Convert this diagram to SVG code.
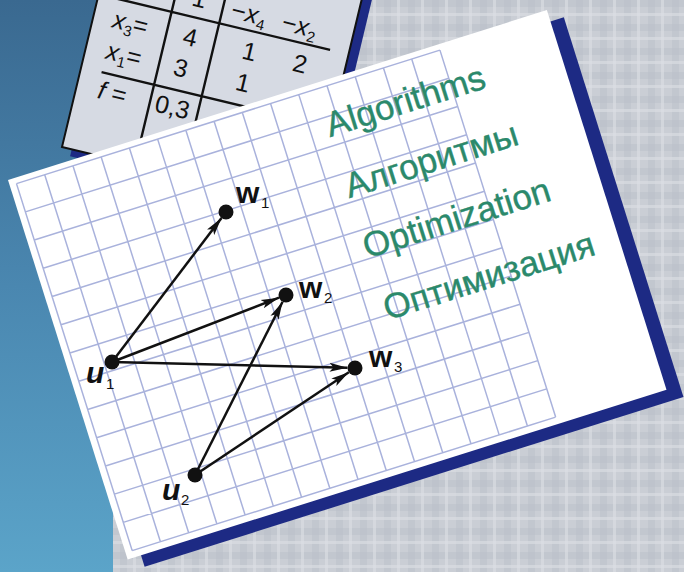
<svg xmlns="http://www.w3.org/2000/svg" width="684" height="572" viewBox="0 0 684 572">
  <defs>
    <linearGradient id="blueBg" x1="0" y1="0" x2="0" y2="1">
      <stop offset="0" stop-color="#3a6990"/>
      <stop offset="0.5" stop-color="#4a87b0"/>
      <stop offset="1" stop-color="#5ba4c9"/>
    </linearGradient>
    <pattern id="plaid" width="24" height="24" patternUnits="userSpaceOnUse">
      <rect width="24" height="24" fill="#caced5"/>
      <rect x="0" y="0" width="7" height="24" fill="#b9bec7" opacity="0.45"/>
      <rect x="0" y="0" width="24" height="7" fill="#b9bec7" opacity="0.45"/>
      <rect x="13" y="0" width="3" height="24" fill="#dcdfe5" opacity="0.6"/>
      <rect x="0" y="13" width="24" height="3" fill="#dcdfe5" opacity="0.6"/>
    </pattern>
    <marker id="arrow" viewBox="0 0 18 10" refX="18" refY="5" markerWidth="18" markerHeight="10" markerUnits="userSpaceOnUse" orient="auto">
      <path d="M0,0.5 L18,5 L0,9.5 L4,5 Z" fill="#111"/>
    </marker>
    <style>
      .navy { fill: #1d2a84; }
      .tbl { font-family: "Liberation Sans", Arial, sans-serif; font-size: 25px; fill: #111; }
      .tline { stroke: #111; stroke-width: 2.4; fill: none; }
      .grid { stroke: #a9b2dc; stroke-width: 1.5; fill: none; }
      .green { font-family: "Liberation Sans", Arial, sans-serif; font-size: 35px; fill: #2b896b; stroke: #2b896b; stroke-width: 0.4; }
      .edge { stroke: #111; stroke-width: 2.5; fill: none; marker-end: url(#arrow); }
      .dot { fill: #111; }
      .lbl { font-family: "Liberation Sans", Arial, sans-serif; font-size: 30px; font-weight: bold; fill: #111; }
      .sub { font-family: "Liberation Sans", Arial, sans-serif; font-size: 15px; fill: #111; }
    </style>
  </defs>

  <!-- background -->
  <rect x="0" y="0" width="684" height="572" fill="url(#plaid)"/>
  <rect x="0" y="0" width="113" height="572" fill="url(#blueBg)"/>

  <!-- simplex table card -->
  <g id="table-card" transform="translate(62,147) rotate(13.5)">
    <rect class="navy" x="10" y="-223" width="257" height="230"/>
    <rect x="0" y="-230" width="257" height="230" fill="#d6dae3" stroke="#111" stroke-width="2"/>
    <path class="tline" d="M75,-230 V0 M124,-230 V0 M8,-157 H238 M21,-82 H235"/>
    <text class="tbl" x="99" y="-168" text-anchor="middle">1</text>
    <text class="tbl" x="133" y="-165">−<tspan font-style="italic">x</tspan><tspan font-size="15" dy="5">4</tspan></text>
    <text class="tbl" x="185" y="-165">−<tspan font-style="italic">x</tspan><tspan font-size="15" dy="5">2</tspan></text>
    <text class="tbl" x="20" y="-128"><tspan font-style="italic">x</tspan><tspan font-size="15" dy="5">3</tspan><tspan dy="-5">=</tspan></text>
    <text class="tbl" x="99" y="-128" text-anchor="middle">4</text>
    <text class="tbl" x="160" y="-128" text-anchor="middle">1</text>
    <text class="tbl" x="212" y="-128" text-anchor="middle">2</text>
    <text class="tbl" x="21" y="-96"><tspan font-style="italic">x</tspan><tspan font-size="15" dy="5">1</tspan><tspan dy="-5">=</tspan></text>
    <text class="tbl" x="97" y="-96" text-anchor="middle">3</text>
    <text class="tbl" x="161" y="-96" text-anchor="middle">1</text>
    <text class="tbl" x="22" y="-56"><tspan font-style="italic">f</tspan>  =</text>
    <text class="tbl" x="98" y="-56" text-anchor="middle">0,3</text>
  </g>

  <!-- grid sheet -->
  <g id="grid-sheet" transform="translate(8,180) rotate(-17.5)">
    <rect class="navy" x="14" y="12" width="565" height="398"/>
    <rect x="0" y="0" width="565" height="398" fill="#ffffff"/>
    <path class="grid" d="M7,6V390.8M36.6,6V390.8M66.2,6V390.8M95.8,6V390.8M125.4,6V390.8M155,6V390.8M184.6,6V390.8M214.2,6V390.8M243.8,6V390.8M273.4,6V390.8M303,6V390.8M332.6,6V390.8M362.2,6V390.8M391.8,6V390.8M421.4,6V390.8M451,6V390.8
      M7,6H451M7,35.6H451M7,65.2H451M7,94.8H451M7,124.4H451M7,154H451M7,183.6H451M7,213.2H451M7,242.8H451M7,272.4H451M7,302H451M7,331.6H451M7,361.2H451M7,390.8H451"/>
    <text class="green" x="320" y="56">Algorithms</text>
    <text class="green" x="320" y="120">Алгоритмы</text>
    <text class="green" x="319" y="183">Optimization</text>
    <text class="green" x="320" y="248">Оптимизация</text>
  </g>

  <!-- connectors -->
  <g id="connectors">
    <line class="edge" x1="112" y1="362" x2="221.5" y2="218"/>
    <line class="edge" x1="112" y1="362" x2="279" y2="297.7"/>
    <line class="edge" x1="112" y1="362" x2="347.5" y2="367.8"/>
    <line class="edge" x1="195" y1="475" x2="282.6" y2="301.7"/>
    <line class="edge" x1="195" y1="475" x2="348.8" y2="372.2"/>
  </g>

  <!-- nodes -->
  <g id="node-w1">
    <circle class="dot" cx="226" cy="212" r="7.5"/>
    <text class="lbl" x="236" y="203">w</text><text class="sub" x="261" y="208">1</text>
  </g>
  <g id="node-w2">
    <circle class="dot" cx="286" cy="295" r="7.5"/>
    <text class="lbl" x="299" y="298">w</text><text class="sub" x="324" y="303">2</text>
  </g>
  <g id="node-w3">
    <circle class="dot" cx="355" cy="368" r="7.5"/>
    <text class="lbl" x="369" y="367">w</text><text class="sub" x="394" y="372">3</text>
  </g>
  <g id="node-u1">
    <circle class="dot" cx="112" cy="362" r="7.5"/>
    <text class="lbl" x="86" y="383" font-style="italic">u</text><text class="sub" x="106" y="389">1</text>
  </g>
  <g id="node-u2">
    <circle class="dot" cx="195" cy="475" r="7.5"/>
    <text class="lbl" x="162" y="500" font-style="italic">u</text><text class="sub" x="181" y="505">2</text>
  </g>
</svg>
